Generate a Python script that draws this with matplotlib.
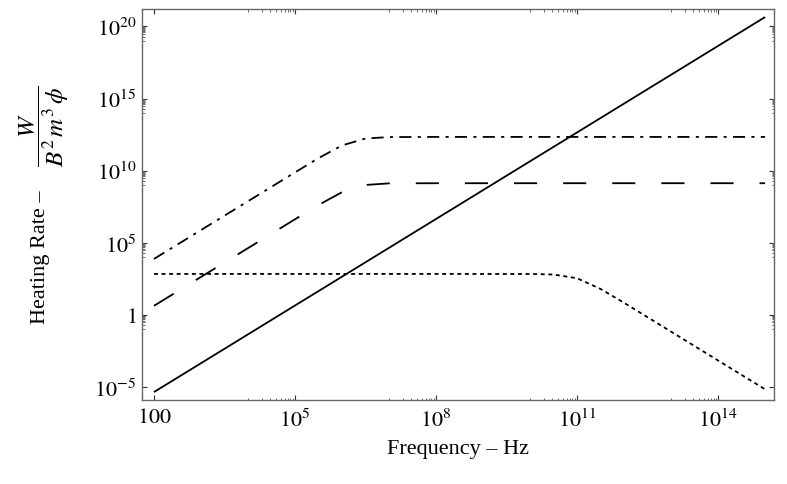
import numpy as np
import matplotlib
matplotlib.use("Agg")
import matplotlib.pyplot as plt
from matplotlib.ticker import FixedLocator, NullFormatter

plt.rcParams['font.family'] = ['Liberation Serif', 'DejaVu Serif']
plt.rcParams['mathtext.fontset'] = 'stix'

# log10 of frequency (Hz) and log10 of heating rate
solid_logf = [2, 5, 8, 11, 14, 15]
solid_logy = [-5.35, 0.65, 6.65, 12.65, 18.65, 20.65]

dashdot_logf = [2, 3, 4, 5, 5.5, 6, 6.5, 7, 8, 10, 12, 14, 15]
dashdot_logy = [3.88, 5.88, 7.88, 9.88, 10.87, 11.75, 12.23, 12.33, 12.34, 12.34, 12.34, 12.34, 12.34]

dashed_logf = [2, 3, 4, 5, 5.5, 6, 6.5, 7, 8, 10, 12, 14, 15]
dashed_logy = [0.63, 2.63, 4.63, 6.63, 7.62, 8.51, 9.01, 9.12, 9.13, 9.13, 9.13, 9.13, 9.13]

dotted_logf = [2, 4, 6, 8, 10, 10.5, 11, 11.5, 12, 13, 14, 15]
dotted_logy = [2.84, 2.84, 2.84, 2.84, 2.836, 2.80, 2.54, 1.80, 0.84, -1.16, -3.16, -5.16]

xtick_exp = [2, 5, 8, 11, 14]
xtick_labels = [r'$100$', r'$10^{5}$', r'$10^{8}$', r'$10^{11}$', r'$10^{14}$']
ytick_exp = [-5, 0, 5, 10, 15, 20]
ytick_labels = [r'$10^{-5}$', r'$1$', r'$10^{5}$', r'$10^{10}$', r'$10^{15}$', r'$10^{20}$']

ylabel_text = 'Heating Rate –'
ylabel_frac = r'$\dfrac{W}{B^{2}\,m^{3}\,\phi}$'

fig = plt.figure(figsize=(7.87, 4.85), dpi=100)
ax = fig.add_axes([0.1804, 0.1732, 0.8031, 0.8062])

lw = 1.3
def p(v):
    return [10.0 ** a for a in v]

ax.plot(p(solid_logf), p(solid_logy), color='black', lw=lw, solid_capstyle='butt')
ax.plot(p(dashdot_logf), p(dashdot_logy), color='black', lw=lw,
        linestyle=(0, (6.7, 3.5, 1.7, 3.5)), dash_capstyle='butt')
ax.plot(p(dashed_logf), p(dashed_logy), color='black', lw=lw,
        linestyle=(0, (12.8, 14.4)), dash_capstyle='butt')
ax.plot(p(dotted_logf), p(dotted_logy), color='black', lw=lw,
        linestyle=(0, (2.2, 2.0)), dash_capstyle='butt')

ax.set_xscale('log')
ax.set_yscale('log')
ax.set_xlim(10 ** 1.745, 10 ** 15.19)
ax.set_ylim(10 ** -5.9, 10 ** 21.21)

ax.xaxis.set_major_locator(FixedLocator([10.0 ** e for e in xtick_exp]))
ax.set_xticklabels(xtick_labels)
ax.yaxis.set_major_locator(FixedLocator([10.0 ** e for e in ytick_exp]))
ax.set_yticklabels(ytick_labels)

xminor = []
for e in xtick_exp[1:]:
    xminor += [m * 10.0 ** (e - 1) for m in range(1, 10)]
yminor = []
for e in ytick_exp[1:]:
    yminor += [m * 10.0 ** (e - 1) for m in range(1, 10)]
ax.xaxis.set_minor_locator(FixedLocator(xminor))
ax.yaxis.set_minor_locator(FixedLocator(yminor))
ax.xaxis.set_minor_formatter(NullFormatter())
ax.yaxis.set_minor_formatter(NullFormatter())

ax.tick_params(which='major', direction='in', length=3.5, width=0.8, color='#333333',
               top=True, right=True, labelsize=16, pad=6)
ax.tick_params(which='minor', direction='in', length=1.8, width=0.6, color='#555555',
               top=True, right=True)
ax.tick_params(axis='y', which='major', pad=4)

for s in ax.spines.values():
    s.set_color('#666666')
    s.set_linewidth(1.0)

ax.set_xlabel('Frequency – Hz', fontsize=16, labelpad=6)
fig.text(41 / 787, 1 - 257 / 485, ylabel_text, rotation=90, ha='center', va='center', fontsize=16)
fig.text(44 / 787, 1 - 126 / 485, ylabel_frac, rotation=90, ha='center', va='center', fontsize=18)

fig.savefig('out.png', dpi=100)
